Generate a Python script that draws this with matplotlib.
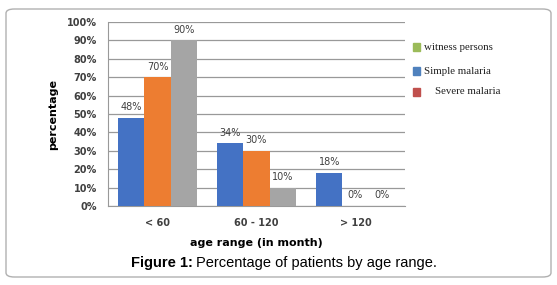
import numpy as np
import matplotlib.pyplot as plt
from matplotlib.patches import FancyBboxPatch, Rectangle

########  data  ########

groups = ["< 60", "60 - 120", "> 120"]
blue_vals = [48, 34, 18]
orange_vals = [70, 30, 0]
gray_vals = [90, 10, 0]
bar_colors = ["#4472C4", "#ED7D31", "#A5A5A5"]

legend_labels = ["witness persons", "Simple malaria", "    Severe malaria"]
legend_colors = ["#9BBB59", "#4F81BD", "#C0504D"]

########  figure  ########

fig = plt.figure(figsize=(5.57, 2.85), dpi=100)

# rounded frame around everything
frame = FancyBboxPatch((6 / 557, 8 / 285), 545 / 557, 268 / 285,
                       boxstyle="round,pad=0,rounding_size=0.015",
                       transform=fig.transFigure, fill=False,
                       edgecolor="#B0B0B0", linewidth=1.0)
fig.patches.append(frame)

ax = fig.add_axes([108 / 557, 1 - 206 / 285, 297 / 557, 184 / 285])

x = np.arange(len(groups))
w = 0.265
series = [blue_vals, orange_vals, gray_vals]
for k, vals in enumerate(series):
    pos = x + (k - 1) * w
    ax.bar(pos, vals, width=w, color=bar_colors[k], zorder=3)
    for p, v in zip(pos, vals):
        ax.text(p, v + 3, "%d%%" % v, ha="center", va="bottom",
                fontsize=7, color="#404040", family="DejaVu Sans")

ax.set_xlim(-0.5, 2.5)
ax.set_ylim(0, 100)
ax.set_yticks(range(0, 101, 10))
ax.set_yticklabels(["%d%%" % t for t in range(0, 101, 10)],
                   fontsize=7, fontweight="bold", color="#404040")
ax.set_xticks(x)
ax.set_xticklabels(groups, fontsize=7, fontweight="bold", color="#404040")
ax.tick_params(length=0, pad=8)
ax.tick_params(axis="x", pad=9)
ax.grid(axis="y", color="#999999", linewidth=0.9, zorder=0)
for s in ["top", "right"]:
    ax.spines[s].set_visible(False)
ax.spines["left"].set_color("#999999")
ax.spines["bottom"].set_color("#999999")

ax.set_ylabel("percentage", fontsize=8, fontweight="bold", labelpad=6)
ax.set_xlabel("age range (in month)", fontsize=8, fontweight="bold", labelpad=7)

# legend (hand-placed to match the original)
ys = [47, 71, 92]
for lab, col, yy in zip(legend_labels, legend_colors, ys):
    fig.patches.append(Rectangle((413 / 557, 1 - (yy + 4) / 285), 7 / 557, 8 / 285,
                                 transform=fig.transFigure, color=col))
    fig.text(424 / 557, 1 - yy / 285, lab, fontsize=7.8, va="center",
             family="Liberation Serif", color="#202020")

# caption: bold "Figure 1:" followed by regular text
cap_y = 1 - 263 / 285
t1 = fig.text(131 / 557, cap_y, "Figure 1:", ha="left", va="center",
              fontsize=10.5, fontweight="bold", family="Liberation Sans")
fig.canvas.draw()
bb = t1.get_window_extent()
fig.text((bb.x1 + 3) / 557, cap_y, "Percentage of patients by age range.",
         ha="left", va="center", fontsize=10.5, family="Liberation Sans")

plt.savefig("out.png", dpi=100)
